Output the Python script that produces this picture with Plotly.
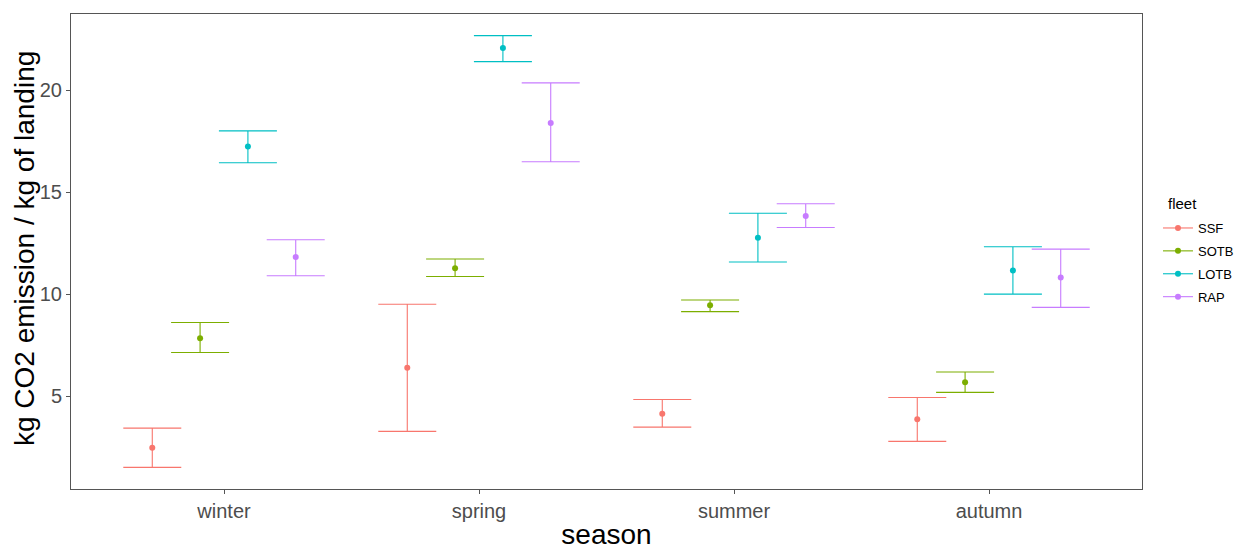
import plotly.graph_objects as go

seasons = ["winter", "spring", "summer", "autumn"]
fleets = ["SSF", "SOTB", "LOTB", "RAP"]
colors = {"SSF": "#F8766D", "SOTB": "#7CAE00", "LOTB": "#00BFC4", "RAP": "#C77CFF"}

# mean, lower, upper per fleet, in season order
ssf_mean = [2.49, 6.40, 4.15, 3.89]
ssf_low = [1.53, 3.29, 3.50, 2.80]
ssf_high = [3.45, 9.51, 4.85, 4.95]

sotb_mean = [7.85, 11.27, 9.46, 5.70]
sotb_low = [7.15, 10.87, 9.15, 5.20]
sotb_high = [8.62, 11.73, 9.72, 6.20]

lotb_mean = [17.23, 22.06, 12.77, 11.16]
lotb_low = [16.44, 21.39, 11.58, 10.01]
lotb_high = [18.00, 22.66, 13.97, 12.33]

rap_mean = [11.82, 18.39, 13.83, 10.82]
rap_low = [10.91, 16.49, 13.27, 9.36]
rap_high = [12.67, 20.35, 14.43, 12.21]

data = {
    "SSF": (ssf_mean, ssf_low, ssf_high),
    "SOTB": (sotb_mean, sotb_low, sotb_high),
    "LOTB": (lotb_mean, lotb_low, lotb_high),
    "RAP": (rap_mean, rap_low, rap_high),
}

fig = go.Figure()
for f in fleets:
    m, lo, hi = data[f]
    fig.add_trace(go.Scatter(
        x=seasons, y=m, mode="markers", name=f, showlegend=False, legendgroup=f,
        marker=dict(color=colors[f], size=6),
        error_y=dict(type="data", symmetric=False,
                     array=[h - v for h, v in zip(hi, m)],
                     arrayminus=[v - l for v, l in zip(m, lo)],
                     color=colors[f], thickness=1.1, width=29),
    ))
    # legend entry (line + point like ggplot key) on a hidden axis
    fig.add_trace(go.Scatter(
        x=[None], y=[None], mode="lines+markers", name=f, showlegend=True, legendgroup=f,
        line=dict(color=colors[f], width=1.1), marker=dict(color=colors[f], size=6),
        xaxis="x2", yaxis="y2",
    ))

# legend title
fig.add_annotation(
    text="fleet", xref="paper", yref="paper", x=1.0224, y=0.602,
    xanchor="left", yanchor="middle", showarrow=False,
    font=dict(size=15, color="#000"),
)
# y axis title
fig.add_annotation(
    text="kg CO2 emission / kg of landing", xref="paper", yref="paper",
    x=0, y=0.5, xshift=-46.5, yshift=3, textangle=-90,
    xanchor="center", yanchor="middle", showarrow=False,
    font=dict(size=28, color="#000"),
)

fig.update_layout(
    width=1243, height=550,
    paper_bgcolor="white", plot_bgcolor="white",
    margin=dict(l=71, r=101, t=14, b=61),
    font=dict(family="Liberation Sans, Arial, sans-serif", color="#000000"),
    scattermode="group", scattergap=0.25,
    showlegend=True,
    legend=dict(
        xref="container", yref="container",
        x=0.9316, xanchor="left", y=0.6127, yanchor="top",
        font=dict(size=13, color="#000"), bgcolor="rgba(0,0,0,0)",
        tracegroupgap=3, itemwidth=30,
    ),
    xaxis=dict(
        type="category", categoryorder="array", categoryarray=seasons,
        range=[-0.6, 3.6], automargin=False,
        showgrid=False, zeroline=False,
        showline=True, linecolor="#555555", linewidth=1, mirror=True,
        ticks="outside", ticklen=4, tickcolor="#555555",
        tickfont=dict(size=20, color="#4D4D4D"),
        title=dict(text="season", font=dict(size=28, color="#000"), standoff=3),
    ),
    yaxis=dict(
        range=[0.47, 23.72], automargin=False,
        tickvals=[5, 10, 15, 20],
        showgrid=False, zeroline=False,
        showline=True, linecolor="#555555", linewidth=1, mirror=True,
        ticks="outside", ticklen=4, tickcolor="#555555",
        tickfont=dict(size=20, color="#4D4D4D"),
    ),
    xaxis2=dict(visible=False, overlaying="x", range=[0, 1]),
    yaxis2=dict(visible=False, overlaying="y", range=[0, 1]),
)

fig.write_html(
    "out.html",
    config={"responsive": False, "displayModeBar": False},
    post_script="document.body.style.margin='0';document.body.style.overflow='hidden';",
)
